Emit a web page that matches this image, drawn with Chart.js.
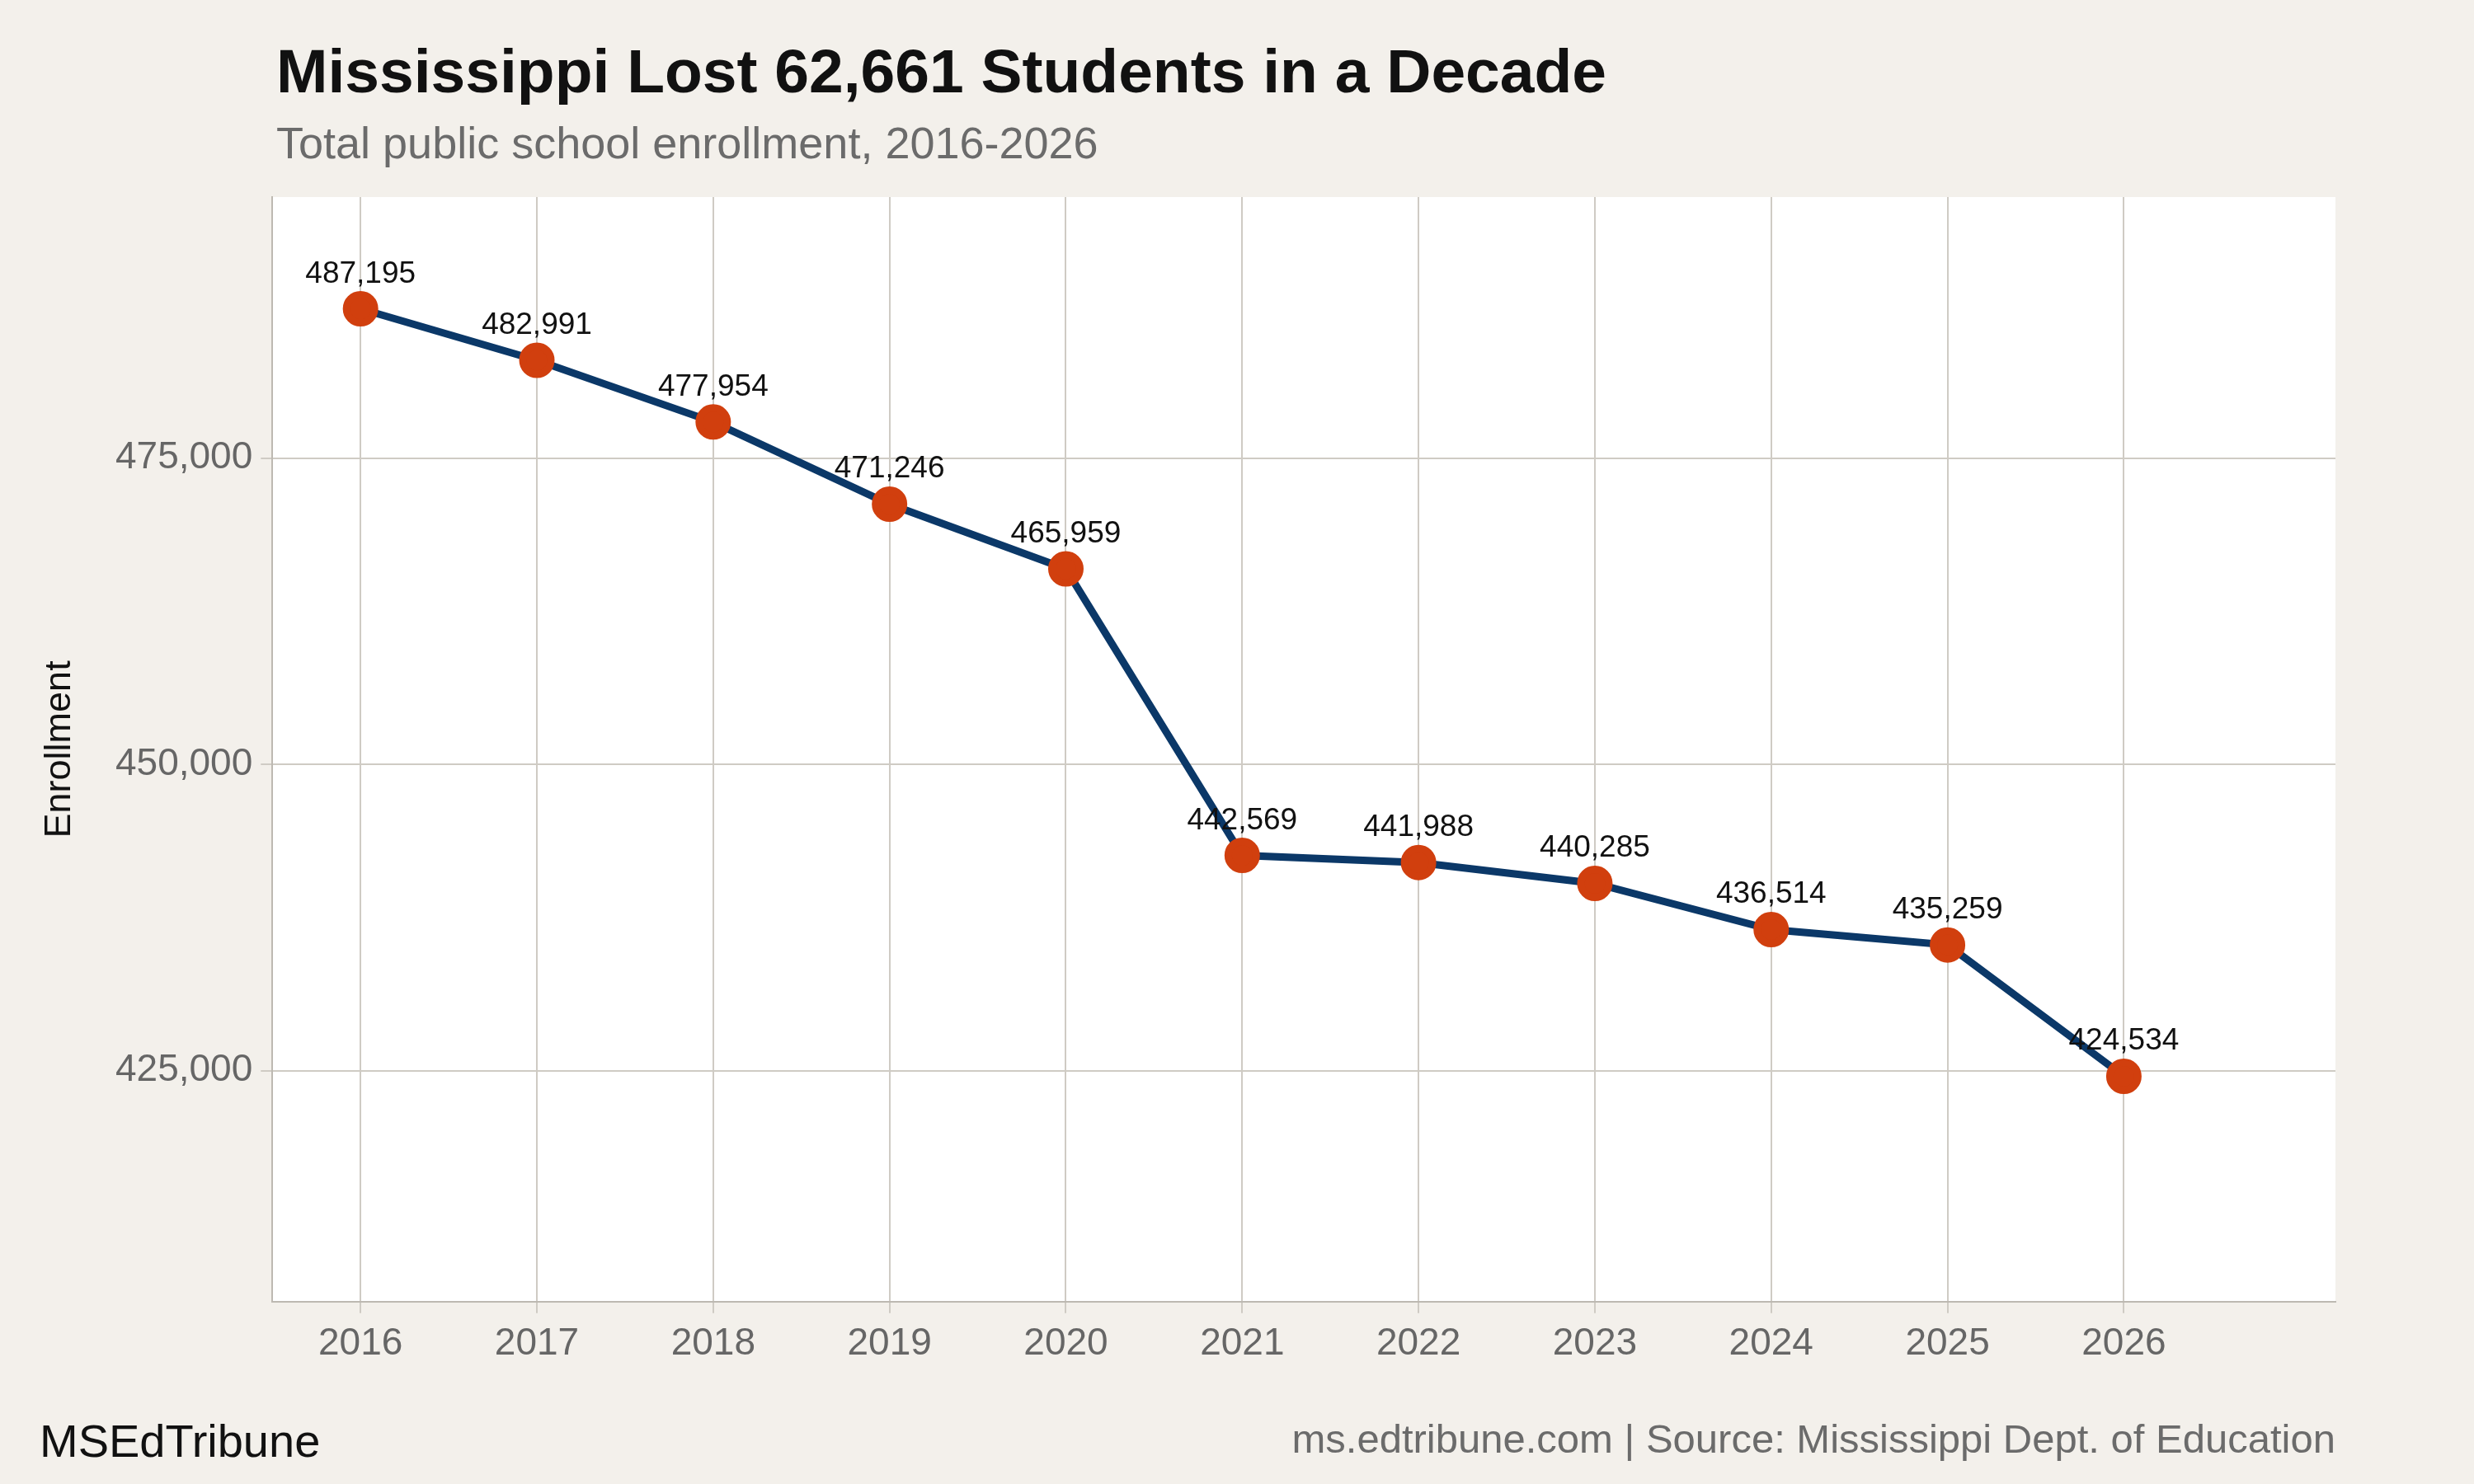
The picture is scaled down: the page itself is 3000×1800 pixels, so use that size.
<!DOCTYPE html>
<html lang="en">
<head>
  <meta charset="UTF-8">
  <title>Mississippi Enrollment</title>
  <script src="https://cdn.jsdelivr.net/npm/chart.js"></script>
  <style>
    body { margin: 0; background: #f3f0eb; }
    #wrap { width: 3000px; height: 1800px; position: relative; }
  </style>
</head>
<body>
  <div id="wrap"><canvas id="enrollChart" width="3000" height="1800"></canvas></div>
  <script>
    const years = [2016, 2017, 2018, 2019, 2020, 2021, 2022, 2023, 2024, 2025, 2026];
    const enrollment = [487195, 482991, 477954, 471246, 465959, 442569, 441988, 440285, 436514, 435259, 424534];
    const yTicks = [425000, 450000, 475000];

    const font = "'Liberation Sans', Arial, sans-serif";

    // white plot panel, titles, footer and point labels
    const decorations = {
      id: 'decorations',
      beforeDraw(chart) {
        const { ctx, chartArea: a } = chart;
        ctx.save();
        ctx.fillStyle = '#f3f0eb';
        ctx.fillRect(0, 0, chart.width, chart.height);
        ctx.fillStyle = '#ffffff';
        ctx.fillRect(a.left, a.top, a.right - a.left, a.bottom - a.top);
        ctx.restore();
      },
      afterDraw(chart) {
        const { ctx } = chart;
        ctx.save();
        ctx.textBaseline = 'alphabetic';
        ctx.fillStyle = '#111111';
        ctx.font = `bold 75px ${font}`;
        ctx.fillText('Mississippi Lost 62,661 Students in a Decade', 335, 112);
        ctx.fillStyle = '#6b6b6b';
        ctx.font = `54px ${font}`;
        ctx.fillText('Total public school enrollment, 2016-2026', 335, 192);
        ctx.fillStyle = '#111111';
        ctx.font = `56px ${font}`;
        ctx.fillText('MSEdTribune', 48, 1767);
        ctx.fillStyle = '#6b6b6b';
        ctx.font = `49px ${font}`;
        ctx.textAlign = 'right';
        ctx.fillText('ms.edtribune.com | Source: Mississippi Dept. of Education', 2832, 1762);

        const meta = chart.getDatasetMeta(0);
        ctx.textAlign = 'center';
        ctx.fillStyle = '#111111';
        ctx.font = `37px ${font}`;
        meta.data.forEach((pt, i) => {
          ctx.fillText(enrollment[i].toLocaleString('en-US'), pt.x, pt.y - 32);
        });
        ctx.restore();
      }
    };

    new Chart(document.getElementById('enrollChart'), {
      type: 'line',
      data: {
        datasets: [{
          data: years.map((y, i) => ({ x: y, y: enrollment[i] })),
          borderColor: '#0b3868',
          borderWidth: 9,
          pointBackgroundColor: '#d13f0e',
          pointBorderColor: '#d13f0e',
          pointRadius: 17,
          tension: 0
        }]
      },
      options: {
        responsive: false,
        animation: false,
        layout: { padding: { top: 239, right: 168, bottom: 132, left: 42 } },
        plugins: { legend: { display: false }, tooltip: { enabled: false } },
        scales: {
          x: {
            type: 'linear',
            min: 2015.5,
            max: 2027.2,
            afterBuildTicks: axis => { axis.ticks = years.map(v => ({ value: v })); },
            grid: { color: '#cfcbc4', lineWidth: 2, drawTicks: true, tickLength: 14 },
            border: { color: '#bdb9b2', width: 2 },
            ticks: { color: '#666666', font: { family: font, size: 46 }, padding: 10, callback: v => String(v) }
          },
          y: {
            min: 406137,
            max: 496318,
            afterBuildTicks: axis => { axis.ticks = yTicks.map(v => ({ value: v })); },
            grid: { color: '#cfcbc4', lineWidth: 2, tickLength: 14 },
            border: { color: '#bdb9b2', width: 2 },
            title: { display: true, text: 'Enrollment', color: '#111111', font: { family: font, size: 45 }, padding: { bottom: 30 } },
            ticks: { color: '#666666', font: { family: font, size: 46 }, padding: 10, callback: v => v.toLocaleString('en-US') }
          }
        }
      },
      plugins: [decorations]
    });
  </script>
</body>
</html>
